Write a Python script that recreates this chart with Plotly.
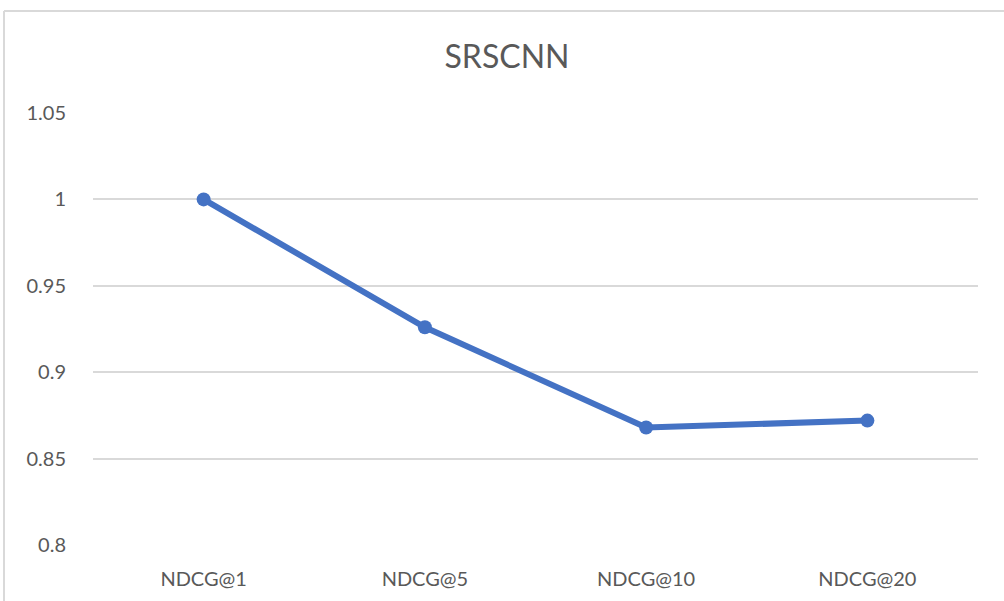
import plotly.graph_objects as go

categories = ["NDCG@1", "NDCG@5", "NDCG@10", "NDCG@20"]
values = [1.0, 0.926, 0.868, 0.872]
y_ticks = [0.8, 0.85, 0.9, 0.95, 1.0, 1.05]
y_tick_labels = ["0.8", "0.85", "0.9", "0.95", "1", "1.05"]

W, H = 1004, 601
L, R, T, B = 93, 26, 113, 56
pw, ph = W - L - R, H - T - B

def px_x(px):
    return (px - L) / pw

def px_y(py):
    return (H - B - py) / ph

fig = go.Figure()
fig.add_trace(go.Scatter(
    x=categories, y=values, mode="lines+markers",
    line=dict(color="#4472C4", width=6),
    marker=dict(color="#4472C4", size=14),
    showlegend=False, hoverinfo="skip",
))

fig.update_layout(
    width=W, height=H,
    margin=dict(l=L, r=R, t=T, b=B, autoexpand=False),
    paper_bgcolor="white", plot_bgcolor="white",
    title=dict(text="SRSCNN", x=0.505, xanchor="center", y=1 - 57 / H, yanchor="middle",
               font=dict(family="Lato, Open Sans, sans-serif", size=32, color="#595959")),
    font=dict(family="Lato, Open Sans, sans-serif", size=20, color="#595959"),
    xaxis=dict(type="category", range=[-0.5, 3.5], showgrid=False, zeroline=False,
               showline=False, ticks="", automargin=False,
               tickfont=dict(size=20, color="#595959"), ticklabelstandoff=20),
    yaxis=dict(range=[0.8, 1.05], tickvals=y_ticks, ticktext=y_tick_labels,
               showgrid=True, gridcolor="#d9d9d9", gridwidth=2, zeroline=False,
               showline=False, ticks="", automargin=False,
               tickfont=dict(size=20, color="#595959"), ticklabelstandoff=26),
    shapes=[
        dict(type="line", xref="paper", yref="paper", x0=px_x(4), x1=px_x(4),
             y0=px_y(620), y1=px_y(11), line=dict(color="#d9d9d9", width=2)),
        dict(type="line", xref="paper", yref="paper", x0=px_x(4), x1=px_x(1020),
             y0=px_y(11), y1=px_y(11), line=dict(color="#d9d9d9", width=2)),
    ],
)

fig.write_html("out.html", config={"displayModeBar": False},
               post_script="document.body.style.margin='0';document.body.style.overflow='hidden';")
